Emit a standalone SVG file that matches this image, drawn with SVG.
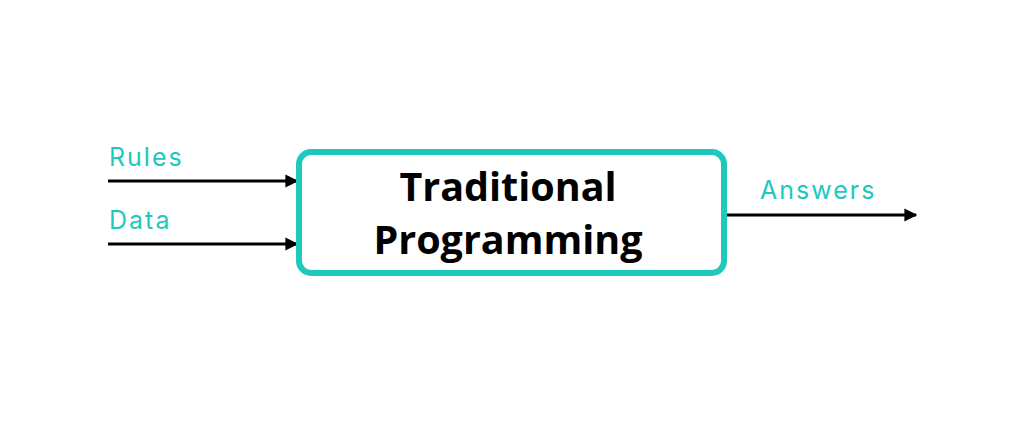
<svg xmlns="http://www.w3.org/2000/svg" width="1024" height="427" viewBox="0 0 1024 427">
<style>
.lbl{font-family:"Inter","Liberation Sans",sans-serif;font-size:25px;letter-spacing:2px;fill:#1ec8bc;}
.title{font-family:"Open Sans","Liberation Sans",sans-serif;font-weight:bold;font-size:39.5px;fill:#000;text-anchor:middle;}
.conn{stroke:#000;stroke-width:3;fill:none;marker-end:url(#ah);}
</style>
<defs>
<marker id="ah" viewBox="0 0 10 10" refX="9" refY="5" markerWidth="4.3" markerHeight="4.8" markerUnits="strokeWidth" orient="auto">
<path d="M0,0 L10,5 L0,10 Z" fill="#000"/>
</marker>
</defs>
<rect width="1024" height="427" fill="#fff"/>
<g id="connectors">
<line class="conn" x1="108" y1="181" x2="297" y2="181"/>
<line class="conn" x1="108" y1="244" x2="297" y2="244"/>
<line class="conn" x1="727" y1="215" x2="916" y2="215"/>
</g>
<g id="node-tp">
<rect x="299" y="152" width="425" height="121" rx="12" fill="#fff" stroke="#1ec8bc" stroke-width="6"/>
<text class="title" x="508" y="201">Traditional</text>
<text class="title" x="508" y="254">Programming</text>
</g>
<g id="label-rules"><text class="lbl" x="109" y="166">Rules</text></g>
<g id="label-data"><text class="lbl" x="109" y="229">Data</text></g>
<g id="label-answers"><text class="lbl" x="760" y="199">Answers</text></g>
</svg>
